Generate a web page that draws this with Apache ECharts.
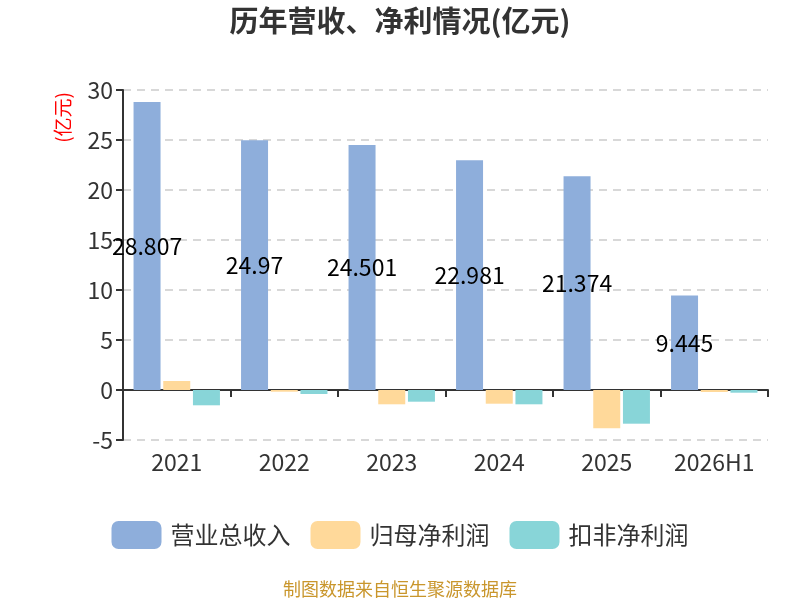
<!DOCTYPE html>
<html>
<head>
<meta charset="utf-8">
<script src="https://cdn.jsdelivr.net/npm/echarts@6/dist/echarts.min.js"></script>
<style>
  html, body { margin: 0; padding: 0; background: #fff; }
  #chart { width: 800px; height: 600px; }
</style>
</head>
<body>
<div id="chart"></div>
<script>
// ── Data ──────────────────────────────────────────────────────────────────────
const years = ['2021', '2022', '2023', '2024', '2025', '2026H1'];
const revenue = [28.807, 24.97, 24.501, 22.981, 21.374, 9.445];
const netProfit = [0.9, -0.17, -1.43, -1.37, -3.83, -0.2];
const deductedProfit = [-1.53, -0.4, -1.17, -1.43, -3.37, -0.27];

const FONT = '"Noto Sans CJK SC", "Noto Sans", sans-serif';

const chart = echarts.init(document.getElementById('chart'), null, { renderer: 'canvas' });

chart.setOption({
  backgroundColor: '#fff',
  textStyle: { fontFamily: FONT },
  color: ['#8eaedb', '#ffd99a', '#88d5d8'],
  title: {
    text: '历年营收、净利情况(亿元)',
    left: 'center',
    top: 1,
    textStyle: { fontSize: 29, fontWeight: 'bold', color: '#333', fontFamily: FONT },
  },
  legend: {
    bottom: 46,
    left: 'center',
    itemWidth: 50,
    itemHeight: 28,
    itemGap: 20,
    icon: 'roundRect',
    textStyle: { fontSize: 24, color: '#333', fontFamily: FONT, padding: [0, 0, 0, 4] },
    data: ['营业总收入', '归母净利润', '扣非净利润'],
  },
  grid: { left: 123, right: 32, top: 90, bottom: 160 },
  xAxis: [
    {
      type: 'category',
      data: years,
      axisLine: { onZero: true, lineStyle: { color: '#333', width: 2 } },
      axisTick: { show: true, length: 7, lineStyle: { color: '#333', width: 2 } },
      axisLabel: { show: false },
    },
    {
      type: 'category',
      data: years,
      position: 'bottom',
      axisLine: { show: false, onZero: false },
      axisTick: { show: false },
      axisLabel: { fontSize: 23, color: '#333', margin: 11, fontFamily: FONT },
    },
  ],
  yAxis: {
    type: 'value',
    min: -5,
    max: 30,
    interval: 5,
    axisLine: { show: true, lineStyle: { color: '#333', width: 2 } },
    axisTick: { show: true, length: 7, lineStyle: { color: '#333', width: 2 } },
    axisLabel: { fontSize: 23, color: '#333', margin: 10, fontFamily: FONT },
    splitLine: { lineStyle: { color: '#ccc', type: [8, 6], width: 1.5 } },
  },
  graphic: [
    {
      type: 'text',
      left: 53,
      top: 92,
      rotation: Math.PI / 2,
      style: { text: '(亿元)', fill: '#f00', fontSize: 19, fontFamily: FONT },
    },
    {
      type: 'text',
      left: 'center',
      bottom: 2,
      style: { text: '制图数据来自恒生聚源数据库', fill: '#c9962c', fontSize: 18, fontFamily: FONT },
    },
  ],
  series: [
    {
      name: '营业总收入',
      type: 'bar',
      data: revenue,
      barWidth: 27,
      barGap: '10%',
      label: {
        show: true,
        position: 'inside',
        color: '#000',
        fontSize: 23,
        fontFamily: FONT,
      },
    },
    {
      name: '归母净利润',
      type: 'bar',
      data: netProfit,
      barWidth: 27,
      barGap: '10%',
    },
    {
      name: '扣非净利润',
      type: 'bar',
      data: deductedProfit,
      barWidth: 27,
      barGap: '10%',
    },
  ],
});
</script>
</body>
</html>
